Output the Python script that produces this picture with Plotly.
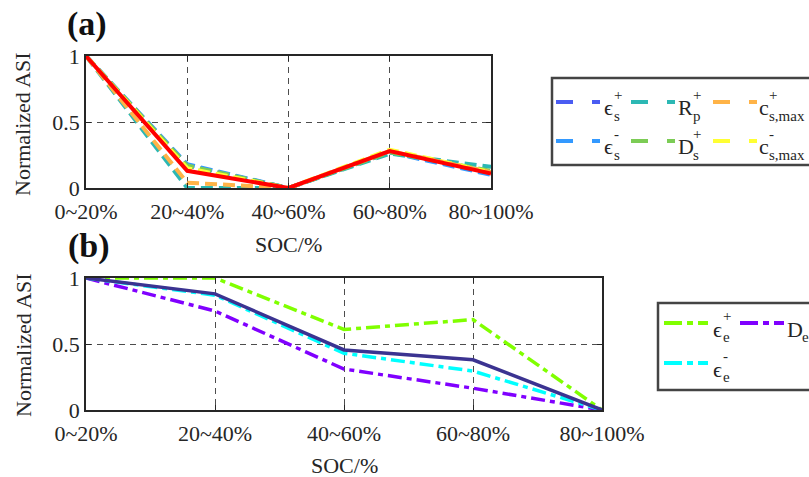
import plotly.graph_objects as go

# ---------------- data ----------------
soc_labels = ["0~20%", "20~40%", "40~60%", "60~80%", "80~100%"]
soc_pos = [0, 1, 2, 3, 4]

# panel (a): solid-phase parameters
eps_s_pos = [1.0, 0.17, 0.0, 0.27, 0.12]
rp_pos = [1.0, 0.00, 0.0, 0.26, 0.16]
csmax_pos = [1.0, 0.04, 0.0, 0.28, 0.12]
eps_s_neg = [1.0, 0.18, 0.0, 0.27, 0.10]
ds_pos = [1.0, 0.17, 0.0, 0.27, 0.13]
csmax_neg = [1.0, 0.15, 0.0, 0.29, 0.12]
asi_a_total = [1.0, 0.13, 0.0, 0.28, 0.11]

# panel (b): electrolyte parameters
eps_e_pos = [1.0, 1.0, 0.61, 0.685, 0.0]
d_e = [1.0, 0.75, 0.31, 0.165, 0.0]
eps_e_neg = [1.0, 0.87, 0.43, 0.295, 0.0]
asi_b_total = [1.0, 0.88, 0.455, 0.38, 0.0]

W, H = 809, 477
FONT = "Liberation Serif, Times New Roman, Tinos, DejaVu Serif, serif"
TXT = "#262626"


def px(x):
    return x / W


def py(y):
    return 1 - y / H


fig = go.Figure()

# ---------------- panel (a) traces ----------------
a_series = [
    (eps_s_pos, "#4a5cf2"),
    (eps_s_neg, "#3399ff"),
    (rp_pos, "#2cb8b4"),
    (ds_pos, "#7ccc55"),
    (csmax_neg, "#ffff33"),
    (csmax_pos, "#ffb347"),
]
for vals, col in a_series:
    fig.add_trace(go.Scatter(
        x=soc_pos, y=vals, mode="lines", showlegend=False,
        line=dict(color=col, width=4, dash="12px,6px"),
        xaxis="x", yaxis="y"))
fig.add_trace(go.Scatter(
    x=soc_pos, y=asi_a_total, mode="lines", showlegend=False,
    line=dict(color="#ff0000", width=4), xaxis="x", yaxis="y"))

# ---------------- panel (b) traces ----------------
dashdot = "14px,5px,5px,5px"
fig.add_trace(go.Scatter(
    x=soc_pos, y=eps_e_pos, mode="lines", showlegend=False,
    line=dict(color="#80ff00", width=3.5, dash=dashdot), xaxis="x2", yaxis="y2"))
fig.add_trace(go.Scatter(
    x=soc_pos, y=d_e, mode="lines", showlegend=False,
    line=dict(color="#8000ff", width=3.5, dash=dashdot), xaxis="x2", yaxis="y2"))
fig.add_trace(go.Scatter(
    x=soc_pos, y=eps_e_neg, mode="lines", showlegend=False,
    line=dict(color="#00ffff", width=3.5, dash=dashdot), xaxis="x2", yaxis="y2"))
fig.add_trace(go.Scatter(
    x=soc_pos, y=asi_b_total, mode="lines", showlegend=False,
    line=dict(color="#3b3391", width=3.5), xaxis="x2", yaxis="y2"))

axis_common = dict(
    automargin=False,
    showline=True, mirror="ticks", linecolor=TXT, linewidth=1.6,
    ticks="inside", ticklen=5, tickcolor=TXT,
    showgrid=True, gridcolor="#4d4d4d", gridwidth=1.1, griddash="6px,5px",
    zeroline=False,
    tickfont=dict(family=FONT, size=22, color=TXT),
)

fig.update_layout(
    width=W, height=H,
    margin=dict(l=0, r=0, t=0, b=0, autoexpand=False),
    paper_bgcolor="white", plot_bgcolor="white",
    xaxis=dict(domain=[px(86), px(491)], range=[0, 4], tickvals=soc_pos,
               ticktext=soc_labels, anchor="y", ticklabelstandoff=3,
               **axis_common),
    yaxis=dict(domain=[py(188), py(56)], range=[0, 1], tickvals=[0, 0.5, 1],
               ticktext=["0", "0.5", "1"], anchor="x", **axis_common),
    xaxis2=dict(domain=[px(86), px(602)], range=[0, 4], tickvals=soc_pos,
                ticktext=soc_labels, anchor="y2", ticklabelstandoff=3,
                **axis_common),
    yaxis2=dict(domain=[py(410), py(278)], range=[0, 1], tickvals=[0, 0.5, 1],
                ticktext=["0", "0.5", "1"], anchor="x2", **axis_common),
)

ann = []


def text(x, y, s, size=22, bold=False, angle=0, xanchor="center"):
    ann.append(dict(
        x=px(x), y=py(y), xref="paper", yref="paper", text=s, showarrow=False,
        xanchor=xanchor, yanchor="middle", textangle=angle, borderpad=0,
        font=dict(family=FONT, size=size, color="#111111" if bold else TXT,
                  weight="bold" if bold else "normal")))


# panel letters and axis titles
text(87, 24, "(a)", size=34, bold=True)
text(89, 246, "(b)", size=34, bold=True)
text(288, 245, "SOC/%")
text(344, 465, "SOC/%")
text(23, 124, "Normalized ASI", angle=-90)
text(23, 345, "Normalized ASI", angle=-90)

shapes = []


def legend_box(x0, y0, x1, y1):
    shapes.append(dict(type="rect", xref="paper", yref="paper",
                       x0=px(x0), x1=px(x1), y0=py(y1), y1=py(y0),
                       line=dict(color="#444444", width=2.5),
                       fillcolor="white", layer="above"))


def sample(x0, x1, y, color, dash):
    shapes.append(dict(type="line", xref="paper", yref="paper",
                       x0=px(x0), x1=px(x1), y0=py(y), y1=py(y),
                       line=dict(color=color, width=4, dash=dash),
                       layer="above"))


def label(x, y, base, sup, sub, bw):
    # base symbol with stacked super- and subscript
    text(x, y + 6, base, size=22, xanchor="left")
    if sup:
        text(x + bw, y - 7, sup, size=15, xanchor="left")
    if sub:
        text(x + bw, y + 14, sub, size=15, xanchor="left")


# legend of panel (a)
legend_box(552, 78, 840, 165)
leg_a = [
    (556, 603, 102, "#4a5cf2", "ϵ", "+", "s", 10),
    (631, 677, 102, "#2cb8b4", "R", "+", "p", 15),
    (713, 758, 102, "#ffb347", "c", "+", "s,max", 10),
    (556, 603, 141, "#3399ff", "ϵ", "-", "s", 10),
    (631, 677, 141, "#7ccc55", "D", "+", "s", 15),
    (713, 758, 141, "#ffff33", "c", "-", "s,max", 10),
]
for sx, lx, y, col, base, sup, sub, bw in leg_a:
    sample(sx, sx + 44, y, col, "17px,19px,8px,30px")
    label(lx, y, base, sup, sub, bw)

# legend of panel (b)
legend_box(658, 303, 840, 390)
leg_b = [
    (664, 712, 323, "#80ff00", "ϵ", "+", "e", 10),
    (740, 786, 323, "#8000ff", "D", "", "e", 15),
    (664, 712, 363, "#00ffff", "ϵ", "-", "e", 10),
]
for sx, lx, y, col, base, sup, sub, bw in leg_b:
    sample(sx, sx + 44, y, col, "18px,5px,6px,5px")
    label(lx, y, base, sup, sub, bw)

fig.update_layout(annotations=ann, shapes=shapes)
fig.write_html("out.html")
